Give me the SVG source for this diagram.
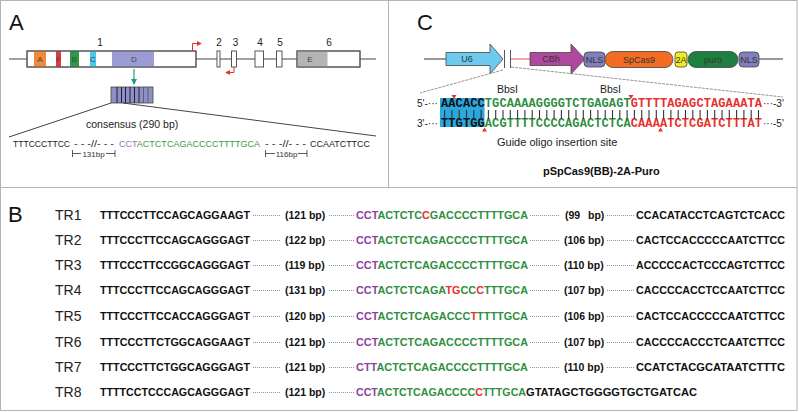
<svg xmlns="http://www.w3.org/2000/svg" width="799" height="412" viewBox="0 0 799 412">
<style>
.frame{fill:none;stroke:#b4b4b4;stroke-width:1}
.plab{font-family:"Liberation Sans",Arial,sans-serif;font-size:22px;fill:#111}
.sans{font-family:"Liberation Sans",Arial,sans-serif}
.exon{fill:#fff;stroke:#555;stroke-width:1}
.exo{fill:none;stroke:#555;stroke-width:1}
.num{font-family:"Liberation Sans",Arial,sans-serif;font-size:10px;fill:#222;text-anchor:middle}
.dom{font-family:"Liberation Sans",Arial,sans-serif;font-size:8px;fill:#444;text-anchor:middle}
.gl{stroke:#444;stroke-width:1;fill:none}
.rarr{stroke:#e8302c;stroke-width:1;fill:none}
.seqA{font-family:"Liberation Sans",Arial,sans-serif;font-size:9.2px;fill:#222}
.tr{font-family:"Liberation Sans",Arial,sans-serif;font-size:14px;fill:#222}
.bs{font-family:"Liberation Sans",Arial,sans-serif;font-size:10.5px;font-weight:bold;fill:#111}
.dot{stroke:#777;stroke-width:0.8;stroke-dasharray:1 1}
.P{fill:#8e3fa0}.G{fill:#2f8f3f}.R{fill:#e8302c}.K{fill:#111}
.mono{font-family:"Liberation Mono","Courier New",monospace;font-size:12px;font-weight:bold}
.cl{font-family:"Liberation Sans",Arial,sans-serif;font-size:9px;fill:#333;text-anchor:middle}
.box{stroke:#444;stroke-width:0.8}
.bar{stroke:#333;stroke-width:1.1}
.exp{stroke:#888;stroke-width:0.9;stroke-dasharray:3 1;fill:none}
</style>
<defs>
<marker id="rh" viewBox="0 0 6 6" refX="5" refY="3" markerWidth="5" markerHeight="5" orient="auto"><path d="M0,0 L6,3 L0,6 z" fill="#e8302c"/></marker>
<marker id="th" viewBox="0 0 6 6" refX="5" refY="3" markerWidth="5" markerHeight="5" orient="auto"><path d="M0,0 L6,3 L0,6 z" fill="#1f9a94"/></marker>
</defs>

<g id="frames">
<rect class="frame" x="0.5" y="0.5" width="796.5" height="410"/>
<line class="frame" x1="0.5" y1="187.5" x2="797" y2="187.5"/>
<line class="frame" x1="388.5" y1="0.5" x2="388.5" y2="187.5"/>
</g>

<g id="panelA">
<text class="plab" x="9" y="30">A</text>
<line class="gl" x1="9" y1="59" x2="376" y2="59"/>
<g id="exon1">
<rect class="exon" x="27" y="51" width="169" height="16"/>
<rect x="34" y="51" width="12" height="16" fill="#f08a3c"/>
<rect x="56" y="51" width="5" height="16" fill="#e23a40"/>
<rect x="70" y="51" width="9" height="16" fill="#2e9a48"/>
<rect x="90" y="51" width="6" height="16" fill="#4ec8ea"/>
<rect x="112" y="51" width="42" height="16" fill="#9c9cd4"/>
<rect class="exo" x="27" y="51" width="169" height="16"/>
<text class="dom" x="40" y="62">A</text>
<text class="dom" x="58.5" y="62" fill="#8a1a1a">F</text>
<text class="dom" x="74.5" y="62">B</text>
<text class="dom" x="93" y="62">C</text>
<text class="dom" x="134" y="62">D</text>
<text class="num" x="100" y="46">1</text>
</g>
<g id="exon2"><rect class="exon" x="217" y="51" width="3" height="16"/><text class="num" x="219" y="46">2</text></g>
<g id="exon3"><rect class="exon" x="231.5" y="51" width="5" height="16"/><text class="num" x="235.5" y="46">3</text></g>
<g id="exon4"><rect class="exon" x="255" y="51" width="8.5" height="16"/><text class="num" x="260" y="46">4</text></g>
<g id="exon5"><rect class="exon" x="276.5" y="51" width="5.5" height="16"/><text class="num" x="280" y="46">5</text></g>
<g id="exon6">
<rect class="exon" x="297" y="51" width="63" height="16"/>
<rect x="297" y="51" width="30.5" height="16" fill="#b4b4b4"/>
<rect class="exo" x="297" y="51" width="63" height="16"/>
<text class="dom" x="310" y="62">E</text>
<text class="num" x="329" y="46">6</text>
</g>
<g id="tss">
<path class="rarr" d="M192.5,51 V43.5 H201" marker-end="url(#rh)"/>
<path class="rarr" d="M234,67 V72.5 H226" marker-end="url(#rh)"/>
</g>
<g id="arrowA"><line x1="134" y1="69" x2="134" y2="84" stroke="#1f9a94" stroke-width="1.2" marker-end="url(#th)"/></g>
<g id="repeats">
<rect x="111" y="87" width="42" height="16" fill="#8e8ecb" stroke="#444" stroke-width="0.8"/>
<g stroke="#222" stroke-width="1">
<line x1="117" y1="87" x2="117" y2="103"/><line x1="121.5" y1="87" x2="121.5" y2="103"/>
<line x1="125.5" y1="87" x2="125.5" y2="103"/><line x1="130" y1="87" x2="130" y2="103"/>
<line x1="134.5" y1="87" x2="134.5" y2="103"/><line x1="139" y1="87" x2="139" y2="103"/>
</g>
<g stroke="#555" stroke-width="0.8">
<line x1="143.5" y1="87" x2="143.5" y2="103"/><line x1="148" y1="87" x2="148" y2="103"/>
</g>
</g>
<g id="expandA">
<line class="gl" x1="111" y1="103" x2="9" y2="137"/>
<line class="gl" x1="123" y1="103" x2="376" y2="136"/>
</g>
<text class="sans" x="86" y="128" font-size="10.5" fill="#222">consensus (290 bp)</text>
<g id="consensus">
<text class="seqA" x="13" y="147" textLength="57" lengthAdjust="spacingAndGlyphs">TTTCCCTTCC</text>
<text class="seqA" x="74" y="147" textLength="40" lengthAdjust="spacingAndGlyphs">- - -//- - -</text>
<text class="seqA" x="119" y="147" textLength="141" lengthAdjust="spacingAndGlyphs"><tspan fill="#a070b8">CCT</tspan><tspan fill="#3a9a48">ACTCTCAGACCCCTTTTGCA</tspan></text>
<text class="seqA" x="265" y="147" textLength="41" lengthAdjust="spacingAndGlyphs">- - -//- - -</text>
<text class="seqA" x="310" y="147" textLength="60" lengthAdjust="spacingAndGlyphs">CCAATCTTCC</text>
</g>
<g id="brackets" stroke="#333" stroke-width="0.8">
<line x1="72.5" y1="150" x2="72.5" y2="157"/><line x1="72.5" y1="153.5" x2="81" y2="153.5"/>
<line x1="106" y1="153.5" x2="115" y2="153.5"/><line x1="115" y1="150" x2="115" y2="157"/>
<line x1="265.5" y1="150" x2="265.5" y2="157"/><line x1="265.5" y1="153.5" x2="275" y2="153.5"/>
<line x1="298" y1="153.5" x2="307" y2="153.5"/><line x1="307" y1="150" x2="307" y2="157"/>
</g>
<text class="sans" x="93.5" y="157" font-size="8" fill="#333" text-anchor="middle">131bp</text>
<text class="sans" x="286.5" y="157" font-size="8" fill="#333" text-anchor="middle">116bp</text>
</g>

<g id="panelC">
<text class="plab" x="417" y="30">C</text>
<g id="backbone" stroke="#777" stroke-width="1.5">
<line x1="424" y1="59" x2="447" y2="59"/>
<line x1="759" y1="59" x2="783" y2="59"/>
</g>
<line x1="511" y1="59" x2="531" y2="59" stroke="#f08a8a" stroke-width="1.5"/>
<g id="U6"><path d="M446,52.5 H490 V44 L503,59 L490,74 V65.5 H446 z" fill="#6ccbef" class="box"/><text class="cl" x="467" y="62">U6</text></g>
<g id="cut" stroke="#555" stroke-width="1"><line x1="504.5" y1="50" x2="504.5" y2="68"/><line x1="510.5" y1="50" x2="510.5" y2="68"/></g>
<g id="CBh"><path d="M530,52.5 H571 V44 L585,59 L571,74 V65.5 H530 z" fill="#b0489e" class="box"/><text class="cl" x="551" y="62">CBh</text></g>
<g id="NLS1"><rect x="584" y="52" width="21" height="15" rx="4" fill="#8080bc" class="box"/><text class="cl" x="594.5" y="62.5">NLS</text></g>
<g id="SpCas9"><rect x="605" y="51.5" width="68" height="16" rx="8" fill="#f26c23" class="box"/><text class="cl" x="639" y="62.5">SpCas9</text></g>
<g id="T2A"><rect x="675" y="52" width="12" height="15" rx="3" fill="#f2ea1c" class="box"/><text class="cl" x="681" y="62.5">2A</text></g>
<g id="puro"><rect x="688" y="51.5" width="50" height="16" rx="8" fill="#1e8040" class="box"/><text class="cl" x="713" y="62.5">puro</text></g>
<g id="NLS2"><rect x="739" y="52" width="20" height="15" rx="4" fill="#8080bc" class="box"/><text class="cl" x="749" y="62.5">NLS</text></g>
<g id="expandC">
<line class="exp" x1="503" y1="70" x2="420" y2="93"/>
<line class="exp" x1="511" y1="67" x2="783" y2="97"/>
</g>
<text class="sans" x="497" y="93" font-size="10.5" fill="#222">BbsI</text>
<text class="sans" x="600" y="93" font-size="10.5" fill="#222">BbsI</text>
<rect x="440" y="98" width="44.5" height="29" fill="#2aa8de"/>
<g id="cuts" fill="#e8302c">
<path d="M451.5,95 h5 l-2.5,4 z"/>
<path d="M628.5,95 h5 l-2.5,4 z"/>
<path d="M482,131.5 h5 l-2.5,-4 z"/>
<path d="M658,131.5 h5 l-2.5,-4 z"/>
</g>
<text class="sans" x="417" y="107" font-size="10" fill="#222">5'-···</text>
<text class="sans" x="763" y="107" font-size="10" fill="#222">···-3'</text>
<text class="sans" x="417" y="127" font-size="10" fill="#222">3'-···</text>
<text class="sans" x="763" y="127" font-size="10" fill="#222">···-5'</text>
<text class="mono" x="441" y="107" textLength="321" lengthAdjust="spacing"><tspan class="K">AACACC</tspan><tspan class="G">TGCAAAAGGGGTCTGAGAGT</tspan><tspan class="R">GTTTTAGAGCTAGAAATA</tspan></text>
<text class="mono" x="441" y="127" textLength="321" lengthAdjust="spacing"><tspan class="K">TTGTGG</tspan><tspan class="G">ACGTTTTCCCCAGACTCTCA</tspan><tspan class="R">CAAAATCTCGATCTTTAT</tspan></text>
<g id="pairs" class="bar">
<line x1="444.6" y1="110" x2="444.6" y2="119"/><line x1="451.9" y1="110" x2="451.9" y2="119"/><line x1="459.2" y1="110" x2="459.2" y2="119"/><line x1="466.5" y1="110" x2="466.5" y2="119"/><line x1="473.8" y1="110" x2="473.8" y2="119"/><line x1="481.1" y1="110" x2="481.1" y2="119"/>
<line x1="488.4" y1="110" x2="488.4" y2="119"/><line x1="495.7" y1="110" x2="495.7" y2="119"/><line x1="503" y1="110" x2="503" y2="119"/><line x1="510.3" y1="110" x2="510.3" y2="119"/><line x1="517.6" y1="110" x2="517.6" y2="119"/><line x1="524.9" y1="110" x2="524.9" y2="119"/>
<line x1="532.2" y1="110" x2="532.2" y2="119"/><line x1="539.5" y1="110" x2="539.5" y2="119"/><line x1="546.8" y1="110" x2="546.8" y2="119"/><line x1="554.1" y1="110" x2="554.1" y2="119"/><line x1="561.4" y1="110" x2="561.4" y2="119"/><line x1="568.7" y1="110" x2="568.7" y2="119"/>
<line x1="576" y1="110" x2="576" y2="119"/><line x1="583.3" y1="110" x2="583.3" y2="119"/><line x1="590.6" y1="110" x2="590.6" y2="119"/><line x1="597.9" y1="110" x2="597.9" y2="119"/><line x1="605.2" y1="110" x2="605.2" y2="119"/><line x1="612.5" y1="110" x2="612.5" y2="119"/>
<line x1="619.8" y1="110" x2="619.8" y2="119"/><line x1="627.1" y1="110" x2="627.1" y2="119"/><line x1="634.4" y1="110" x2="634.4" y2="119"/><line x1="641.7" y1="110" x2="641.7" y2="119"/><line x1="649" y1="110" x2="649" y2="119"/><line x1="656.3" y1="110" x2="656.3" y2="119"/>
<line x1="663.6" y1="110" x2="663.6" y2="119"/><line x1="670.9" y1="110" x2="670.9" y2="119"/><line x1="678.2" y1="110" x2="678.2" y2="119"/><line x1="685.5" y1="110" x2="685.5" y2="119"/><line x1="692.8" y1="110" x2="692.8" y2="119"/><line x1="700.1" y1="110" x2="700.1" y2="119"/>
<line x1="707.4" y1="110" x2="707.4" y2="119"/><line x1="714.7" y1="110" x2="714.7" y2="119"/><line x1="722" y1="110" x2="722" y2="119"/><line x1="729.3" y1="110" x2="729.3" y2="119"/><line x1="736.6" y1="110" x2="736.6" y2="119"/><line x1="743.9" y1="110" x2="743.9" y2="119"/>
<line x1="751.2" y1="110" x2="751.2" y2="119"/><line x1="758.5" y1="110" x2="758.5" y2="119"/>
</g>
<text class="sans" x="497" y="146" font-size="11" fill="#222">Guide oligo insertion site</text>
<text class="sans" x="543" y="175" font-size="11" font-weight="bold" fill="#111">pSpCas9(BB)-2A-Puro</text>
</g>

<g id="panelB">
<text class="plab" x="8" y="222">B</text>
<g id="dots">
<line class="dot" x1="253" y1="215.5" x2="281" y2="215.5"/><line class="dot" x1="329" y1="215.5" x2="355" y2="215.5"/><line class="dot" x1="530" y1="215.5" x2="560" y2="215.5"/><line class="dot" x1="607" y1="215.5" x2="634" y2="215.5"/>
<line class="dot" x1="253" y1="240.5" x2="281" y2="240.5"/><line class="dot" x1="329" y1="240.5" x2="355" y2="240.5"/><line class="dot" x1="530" y1="240.5" x2="560" y2="240.5"/><line class="dot" x1="607" y1="240.5" x2="634" y2="240.5"/>
<line class="dot" x1="253" y1="265.5" x2="281" y2="265.5"/><line class="dot" x1="329" y1="265.5" x2="355" y2="265.5"/><line class="dot" x1="530" y1="265.5" x2="560" y2="265.5"/><line class="dot" x1="607" y1="265.5" x2="634" y2="265.5"/>
<line class="dot" x1="253" y1="290.5" x2="281" y2="290.5"/><line class="dot" x1="329" y1="290.5" x2="355" y2="290.5"/><line class="dot" x1="530" y1="290.5" x2="560" y2="290.5"/><line class="dot" x1="607" y1="290.5" x2="634" y2="290.5"/>
<line class="dot" x1="253" y1="316.5" x2="281" y2="316.5"/><line class="dot" x1="329" y1="316.5" x2="355" y2="316.5"/><line class="dot" x1="530" y1="316.5" x2="560" y2="316.5"/><line class="dot" x1="607" y1="316.5" x2="634" y2="316.5"/>
<line class="dot" x1="253" y1="342.5" x2="281" y2="342.5"/><line class="dot" x1="329" y1="342.5" x2="355" y2="342.5"/><line class="dot" x1="530" y1="342.5" x2="560" y2="342.5"/><line class="dot" x1="607" y1="342.5" x2="634" y2="342.5"/>
<line class="dot" x1="253" y1="367.5" x2="281" y2="367.5"/><line class="dot" x1="329" y1="367.5" x2="355" y2="367.5"/><line class="dot" x1="530" y1="367.5" x2="560" y2="367.5"/><line class="dot" x1="607" y1="367.5" x2="634" y2="367.5"/>
<line class="dot" x1="253" y1="392.5" x2="281" y2="392.5"/><line class="dot" x1="329" y1="392.5" x2="355" y2="392.5"/>
</g>
<g id="TR1">
<text class="tr" x="55" y="220">TR1</text>
<text class="bs" x="100" y="219" textLength="150" lengthAdjust="spacingAndGlyphs">TTTCCCTTCCAGCAGGAAGT</text>
<text class="bs" x="285" y="219">(121 bp)</text>
<text class="bs" x="356" y="219" textLength="172" lengthAdjust="spacingAndGlyphs"><tspan class="P">CCT</tspan><tspan class="G">ACTCTC</tspan><tspan class="R">C</tspan><tspan class="G">GACCCCTTTTGCA</tspan></text>
<text class="bs" x="565" y="219">(99</text><text class="bs" x="588" y="219">bp)</text>
<text class="bs" x="636" y="219" textLength="149" lengthAdjust="spacingAndGlyphs">CCACATACCTCAGTCTCACC</text>
</g>
<g id="TR2">
<text class="tr" x="55" y="245">TR2</text>
<text class="bs" x="100" y="244" textLength="150" lengthAdjust="spacingAndGlyphs">TTTCCCTTCCAGCAGGGAGT</text>
<text class="bs" x="285" y="244">(122 bp)</text>
<text class="bs" x="356" y="244" textLength="172" lengthAdjust="spacingAndGlyphs"><tspan class="P">CCT</tspan><tspan class="G">ACTCTCAGACCCCTTTTGCA</tspan></text>
<text class="bs" x="564" y="244">(106 bp)</text>
<text class="bs" x="636" y="244" textLength="149" lengthAdjust="spacingAndGlyphs">CACTCCACCCCCAATCTTCC</text>
</g>
<g id="TR3">
<text class="tr" x="55" y="270">TR3</text>
<text class="bs" x="100" y="269" textLength="150" lengthAdjust="spacingAndGlyphs">TTTCCCTTCCGGCAGGGAGT</text>
<text class="bs" x="285" y="269">(119 bp)</text>
<text class="bs" x="356" y="269" textLength="172" lengthAdjust="spacingAndGlyphs"><tspan class="P">CCT</tspan><tspan class="G">ACTCTCAGACCCCTTTTGCA</tspan></text>
<text class="bs" x="564" y="269">(110 bp)</text>
<text class="bs" x="636" y="269" textLength="149" lengthAdjust="spacingAndGlyphs">ACCCCCACTCCCAGTCTTCC</text>
</g>
<g id="TR4">
<text class="tr" x="55" y="295">TR4</text>
<text class="bs" x="100" y="294" textLength="150" lengthAdjust="spacingAndGlyphs">TTTCCCTTCCAGCAGGGAGT</text>
<text class="bs" x="285" y="294">(131 bp)</text>
<text class="bs" x="356" y="294" textLength="172" lengthAdjust="spacingAndGlyphs"><tspan class="P">CCT</tspan><tspan class="G">ACTCTCAGA</tspan><tspan class="R">TG</tspan><tspan class="G">CC</tspan><tspan class="R">C</tspan><tspan class="G">TTTGCA</tspan></text>
<text class="bs" x="564" y="294">(107 bp)</text>
<text class="bs" x="636" y="294" textLength="149" lengthAdjust="spacingAndGlyphs">CACCCCACCTCCAATCTTCC</text>
</g>
<g id="TR5">
<text class="tr" x="55" y="321">TR5</text>
<text class="bs" x="100" y="320" textLength="150" lengthAdjust="spacingAndGlyphs">TTTCCCTTCCACCAGGGAGT</text>
<text class="bs" x="285" y="320">(120 bp)</text>
<text class="bs" x="356" y="320" textLength="172" lengthAdjust="spacingAndGlyphs"><tspan class="P">CCT</tspan><tspan class="G">ACTCTCAGACCC</tspan><tspan class="R">T</tspan><tspan class="G">TTTTGCA</tspan></text>
<text class="bs" x="564" y="320">(106 bp)</text>
<text class="bs" x="636" y="320" textLength="149" lengthAdjust="spacingAndGlyphs">CACTCCACCCCCAATCTTCC</text>
</g>
<g id="TR6">
<text class="tr" x="55" y="347">TR6</text>
<text class="bs" x="100" y="346" textLength="150" lengthAdjust="spacingAndGlyphs">TTTCCCTTCTGGCAGGAAGT</text>
<text class="bs" x="285" y="346">(121 bp)</text>
<text class="bs" x="356" y="346" textLength="172" lengthAdjust="spacingAndGlyphs"><tspan class="P">CCT</tspan><tspan class="G">ACTCTCAGACCCCTTTTGCA</tspan></text>
<text class="bs" x="564" y="346">(107 bp)</text>
<text class="bs" x="636" y="346" textLength="149" lengthAdjust="spacingAndGlyphs">CACCCCACCCTCAATCTTCC</text>
</g>
<g id="TR7">
<text class="tr" x="55" y="372">TR7</text>
<text class="bs" x="100" y="371" textLength="150" lengthAdjust="spacingAndGlyphs">TTTCCCTTCTGGCAGGGAGT</text>
<text class="bs" x="285" y="371">(121 bp)</text>
<text class="bs" x="356" y="371" textLength="172" lengthAdjust="spacingAndGlyphs"><tspan class="P">CTT</tspan><tspan class="G">ACTCTCAGACCCCTTTTGCA</tspan></text>
<text class="bs" x="564" y="371">(110 bp)</text>
<text class="bs" x="636" y="371" textLength="149" lengthAdjust="spacingAndGlyphs">CCATCTACGCATAATCTTTC</text>
</g>
<g id="TR8">
<text class="tr" x="55" y="397">TR8</text>
<text class="bs" x="100" y="396" textLength="150" lengthAdjust="spacingAndGlyphs">TTTTCCTCCCAGCAGGGAGT</text>
<text class="bs" x="285" y="396">(121 bp)</text>
<text class="bs" x="356" y="396" textLength="170" lengthAdjust="spacingAndGlyphs"><tspan class="P">CCT</tspan><tspan class="G">ACTCTCAGACCCC</tspan><tspan class="R">C</tspan><tspan class="G">TTTGCA</tspan></text>
<text class="bs" x="526" y="396" textLength="171" lengthAdjust="spacingAndGlyphs">GTATAGCTGGGGTGCTGATCAC</text>
</g>
</g>
</svg>
